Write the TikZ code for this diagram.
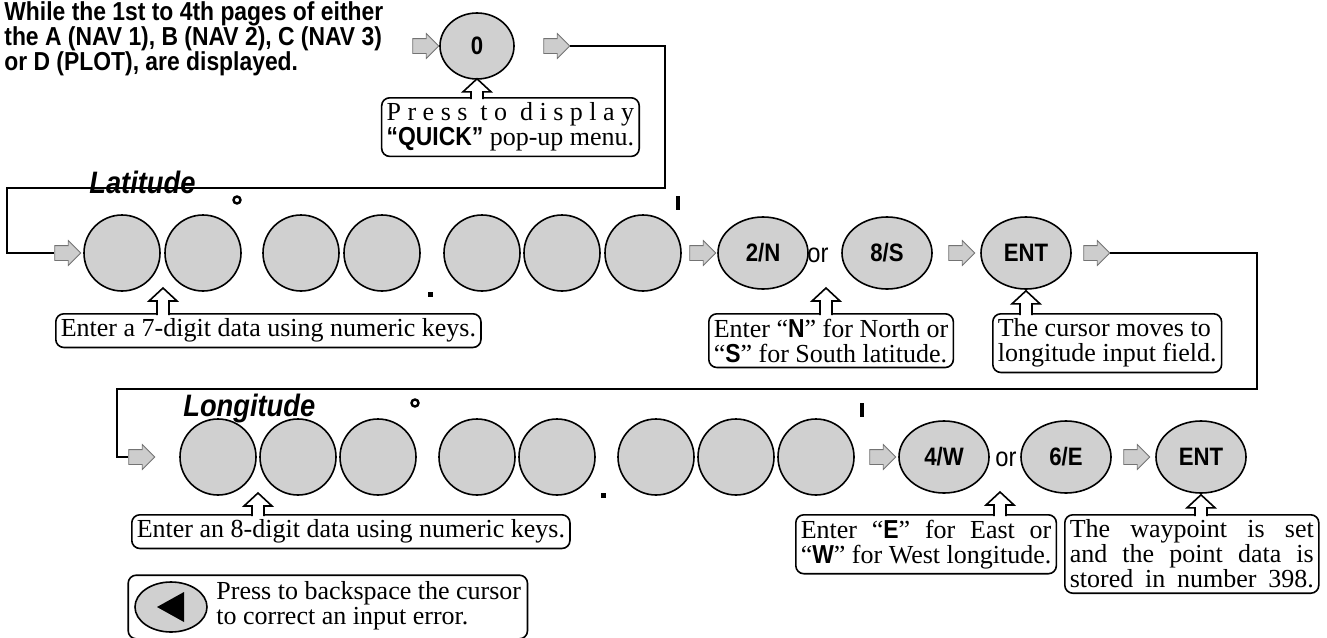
\documentclass[tikz,border=0pt]{standalone}
\usepackage{fontspec}
\setmainfont{Liberation Serif}
\setsansfont[FakeStretch=0.88]{Liberation Sans}
\usetikzlibrary{positioning,calc,fit,shapes.geometric,shapes.arrows}
\definecolor{keyfill}{RGB}{208,208,208}
\definecolor{arrfill}{RGB}{205,205,205}
\colorlet{arredge}{black!55}

\newlength\notewd
\newcommand\spreadto[2]{\settowidth\notewd{#1}\makebox[\notewd][s]{#2}}
\newcommand\bsf[1]{\textsf{\textbf{#1}}}

\tikzset{
  digit/.style={circle,draw,thick,fill=keyfill,minimum size=38pt,inner sep=0pt},
  key/.style={ellipse,draw,thick,fill=keyfill,minimum width=45pt,minimum height=36pt,inner sep=0pt,
    font=\sffamily\bfseries\fontsize{12.6}{12.6}\selectfont},
  flow/.style={single arrow,draw=arredge,fill=arrfill,minimum height=13pt,inner xsep=0pt,inner ysep=3.5pt,
    single arrow head extend=2.5pt,single arrow head indent=0pt},
  note/.style={draw,thick,rounded corners=4pt,fill=white,align=left,inner sep=2.5pt,
    font=\fontsize{13}{12.5}\selectfont},
  title/.style={anchor=north west,align=left,inner sep=0pt,
    font=\sffamily\bfseries\fontsize{13}{12.5}\selectfont},
  field/.style={anchor=west,inner sep=0pt,font=\sffamily\bfseries\itshape\fontsize{15.5}{15.5}\selectfont},
  ortext/.style={inner sep=0pt,font=\sffamily\fontsize{13.5}{13.5}\selectfont},
  wire/.style={thick},
  callarrow/.style={fill=white,thick}
}
% hollow arrow from the top of a note up to a tip
\newcommand\callup[2]{%
  \filldraw[callarrow] ($(#1.north -| #2)+(-6,2)$) -- ($(#2)+(-6,13)$) -- ($(#2)+(-14,13)$) -- (#2)
    -- ($(#2)+(14,13)$) -- ($(#2)+(6,13)$) -- ($(#1.north -| #2)+(6,2)$);}

\begin{document}
\begin{tikzpicture}[x=0.5pt,y=-0.5pt,>=stealth]
  \useasboundingbox (0,0) rectangle (1327,637);

  % start
  \node[title] (head) at (4,1) {While the 1st to 4th pages of either\\the A (NAV 1), B (NAV 2), C (NAV 3)\\or D (PLOT), are displayed.};
  \node[flow] (f1) at (422,46) {};
  \node[key,minimum height=33pt,minimum width=37pt] (k0) at (477,46) {0};
  \node[flow] (f2) at (553,46) {};
  \node[note,anchor=north east] (n0) at (640,97) {\spreadto{\bsf{``QUICK''} pop-up menu.}{P r e s s \ t o \ d i s p l a y}\\\bsf{``QUICK''} pop-up menu.};
  \coordinate (t0) at ($(k0.south)+(0,-1)$);
  \callup{n0}{t0}

  \coordinate (c1) at (665,188);
  \coordinate (c2) at (7,253);
  \node[flow] (f3) at (64,253) {};
  \draw[wire] (f2.east) -| (c1) -| (c2) -- (f3.west);

  % latitude
  \node[field] (lat) at (89,182) {Latitude};
  \foreach \i/\x in {1/122,2/203,3/301,4/382,5/482,6/562,7/643}
    \node[digit] (d\i) at (\x,253) {};
  \draw[very thick] (237,200) circle (3.5);
  \fill (428,292) rectangle (433,297);
  \draw[line width=2.2pt] (678,196) -- (678,210);
  \node[flow] (f4) at (699,253) {};
  \node[key] (k1) at (763,253) {2/N};
  \node[ortext] (or1) at (818,255) {or};
  \node[key] (k2) at (887,253) {8/S};
  \node[flow] (f5) at (958,253) {};
  \node[key] (k3) at (1026,253) {ENT};
  \node[flow] (f6) at (1093,253) {};

  \node[note,anchor=north west] (n1) at (55,313) {Enter a 7-digit data using numeric keys.};
  \node[note,anchor=north west] (n2) at (708,313) {Enter ``\bsf{N}'' for North or\\``\bsf{S}'' for South latitude.};
  \node[note,anchor=north west] (n3) at (992,313) {The cursor moves to\\longitude input field.};
  \coordinate (t1) at (163,288);
  \coordinate (t2) at (826,288);
  \coordinate (t3) at ($(k3.south)+(0,1)$);
  \callup{n1}{t1}
  \callup{n2}{t2}
  \callup{n3}{t3}

  \coordinate (c3) at (1257,389);
  \coordinate (c4) at (117,457);
  \node[flow] (f7) at (138,457) {};
  \draw[wire] (f6.east) -| (c3) -| (c4) -- (f7.west);

  % longitude
  \node[field] (lon) at (183,408) {Longitude};
  \foreach \i/\x in {1/218,2/298,3/378,4/477,5/557,6/656,7/736,8/816}
    \node[digit] (g\i) at (\x,457) {};
  \draw[very thick] (415,403) circle (3.5);
  \fill (601,493) rectangle (606,498);
  \draw[line width=2.2pt] (862,403) -- (862,417);
  \node[flow] (f8) at (879,457) {};
  \node[key] (k4) at (944,457) {4/W};
  \node[ortext] (or2) at (1006,459) {or};
  \node[key] (k5) at (1066,457) {6/E};
  \node[flow] (f9) at (1133,457) {};
  \node[key] (k6) at (1201,457) {ENT};

  \node[note,anchor=north west] (n4) at (131,514) {Enter an 8-digit data using numeric keys.};
  \node[note,anchor=north west] (n5) at (795,514) {\spreadto{``\bsf{W}'' for West longitude.}{Enter ``\bsf{E}'' for East or}\\``\bsf{W}'' for West longitude.};
  \node[note,anchor=north west] (n6) at (1064,514) {\makebox[122pt][s]{The waypoint is set}\\\makebox[122pt][s]{and the point data is}\\\makebox[122pt][s]{stored in number 398.}};
  \coordinate (t4) at (258,493);
  \coordinate (t5) at (1000,492);
  \coordinate (t6) at ($(k6.south)+(0,1)$);
  \callup{n4}{t4}
  \callup{n5}{t5}
  \callup{n6}{t6}

  % backspace
  \node[ellipse,draw,thick,fill=keyfill,minimum width=36pt,minimum height=25pt,inner sep=0pt] (bk) at (171,607) {};
  \fill ($(bk.center)+(-14,0)$) -- ++(27,-15) -- ++(0,30) -- cycle;
  \node[anchor=west,align=left,inner sep=0pt,font=\fontsize{13}{12.5}\selectfont] (bktext) at (216,606) {Press to backspace the cursor\\to correct an input error.};
  \node[draw,thick,rounded corners=4pt,inner sep=3pt,fit=(bk)(bktext)] (n7) {};
\end{tikzpicture}
\end{document}
